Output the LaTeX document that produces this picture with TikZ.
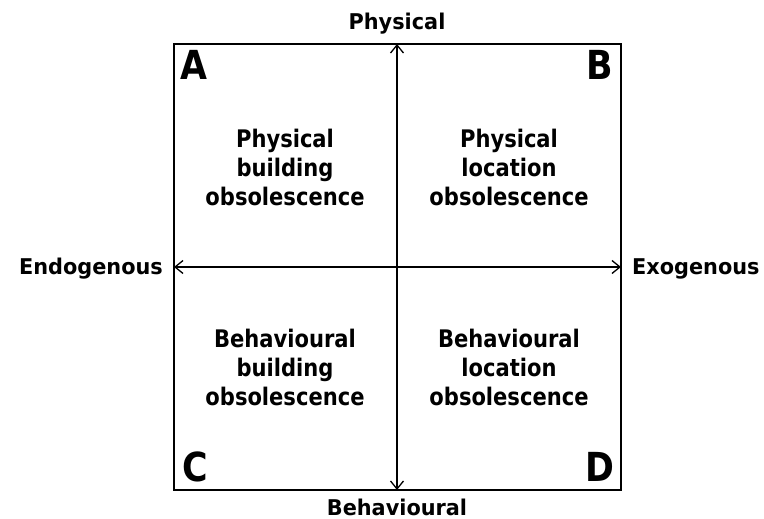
\documentclass[tikz,border=0pt]{standalone}
\usepackage{fontspec}
\setmainfont{DejaVu Sans}[FakeStretch=0.87]
\newfontfamily\axisfont{DejaVu Sans}[FakeStretch=0.96]
\usetikzlibrary{arrows.meta}
\tikzset{
  axislbl/.style={font=\axisfont\fontsize{21.7}{26}\selectfont\bfseries, inner sep=0pt},
  quad/.style={font=\fontsize{24.2}{29}\selectfont\bfseries, align=center, inner sep=0pt, anchor=base},
  corner/.style={font=\fontsize{40}{40}\selectfont\bfseries, inner sep=0pt},
  axis/.style={line width=1.3pt, {Straight Barb[length=8pt,width=13pt]}-{Straight Barb[length=8pt,width=13pt]}},
}
\begin{document}
\begin{tikzpicture}[x=1pt,y=-1pt]
\useasboundingbox (0,0) rectangle (764,519);
\draw[line width=2pt] (174,44) rectangle (621,490);
\coordinate (top) at (397,44);
\coordinate (bot) at (397,490);
\coordinate (lft) at (174,267);
\coordinate (rgt) at (621,267);
\draw[axis] (bot) -- (top);
\draw[axis] (lft) -- (rgt);
\node[axislbl, anchor=base] (phys) at (397,30) {Physical};
\node[axislbl, anchor=base] (behav) at (397,515) {Behavioural};
\node[axislbl, anchor=base east] (endo) at (163,274) {Endogenous};
\node[axislbl, anchor=base west] (exo) at (632,274) {Exogenous};
\node[quad] (qa) at (285,205) {Physical\\building\\obsolescence};
\node[quad] (qb) at (509,205) {Physical\\location\\obsolescence};
\node[quad] (qc) at (285,405) {Behavioural\\building\\obsolescence};
\node[quad] (qd) at (509,405) {Behavioural\\location\\obsolescence};
\node[corner, anchor=base west] (la) at (180,80) {A};
\node[corner, anchor=base east] (lb) at (613,80) {B};
\node[corner, anchor=base west] (lc) at (182,481) {C};
\node[corner, anchor=base east] (ld) at (615,481) {D};
\end{tikzpicture}
\end{document}
